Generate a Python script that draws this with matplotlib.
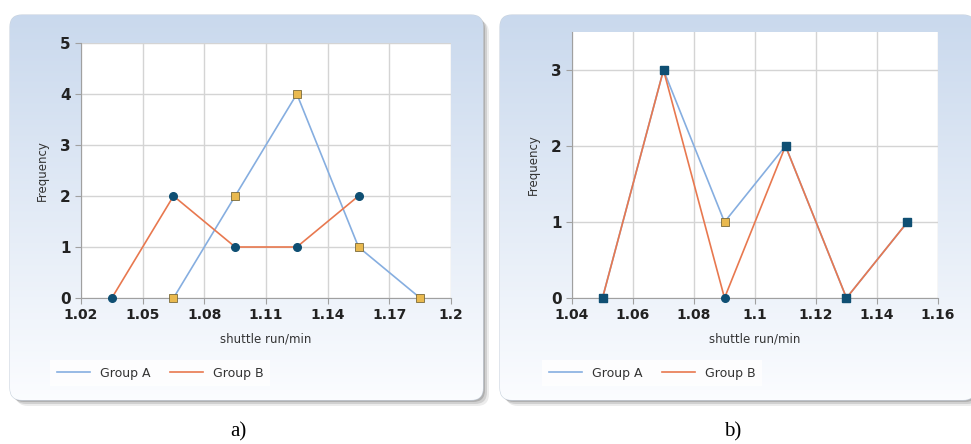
import numpy as np
import matplotlib
matplotlib.use('Agg')
import matplotlib.pyplot as plt
from matplotlib.patches import FancyBboxPatch

# panel a) data
xa_A = [1.065, 1.095, 1.125, 1.155, 1.185]
ya_A = [0, 2, 4, 1, 0]
xa_B = [1.035, 1.065, 1.095, 1.125, 1.155]
ya_B = [0, 2, 1, 1, 2]
xticks_a = [1.02, 1.05, 1.08, 1.11, 1.14, 1.17, 1.2]
xticklabels_a = ['1.02', '1.05', '1.08', '1.11', '1.14', '1.17', '1.2']

# panel b) data
xb = [1.05, 1.07, 1.09, 1.11, 1.13, 1.15]
yb_A = [0, 3, 1, 2, 0, 1]
yb_B = [0, 3, 0, 2, 0, 1]
xticks_b = [1.04, 1.06, 1.08, 1.1, 1.12, 1.14, 1.16]
xticklabels_b = ['1.04', '1.06', '1.08', '1.1', '1.12', '1.14', '1.16']

blue = '#86aee0'
orange = '#e8784f'
dot = '#0f4f73'
sq = '#e9b94f'

W, H = 971, 444
fig = plt.figure(figsize=(W / 100, H / 100), dpi=100)
fig.patch.set_facecolor('white')

# background panels with shadow and vertical gradient
bg = fig.add_axes([0, 0, 1, 1])
bg.set_xlim(0, W)
bg.set_ylim(H, 0)
bg.axis('off')

grad = np.linspace(0, 1, 256)[:, None]
top = np.array([0.79, 0.85, 0.93])
bot = np.array([0.985, 0.99, 1.0])
img = top[None, None, :] * (1 - grad[..., None]) + bot[None, None, :] * grad[..., None]
img = np.repeat(img, 2, axis=1)

for (x0, x1) in [(10, 483), (500, 975)]:
    y0, y1 = 15, 400
    for k, a in zip([6, 4, 2], [0.15, 0.25, 0.4]):
        sh = FancyBboxPatch((x0 + k, y0 + k), x1 - x0, y1 - y0,
                            boxstyle='round,pad=0,rounding_size=12',
                            fc='#808080', ec='none', alpha=a)
        bg.add_patch(sh)
    box = FancyBboxPatch((x0, y0), x1 - x0, y1 - y0,
                         boxstyle='round,pad=0,rounding_size=12',
                         fc='white', ec='#c8d2de', lw=0.8)
    bg.add_patch(box)
    im = bg.imshow(img, extent=(x0, x1, y1, y0), aspect='auto', zorder=2)
    im.set_clip_path(box)

def px(l, t, r, b):
    return [l / W, 1 - b / H, (r - l) / W, (b - t) / H]

def style(ax, xticks, xlabels, ymax, yticks):
    ax.set_facecolor('white')
    ax.set_ylim(0, ymax)
    ax.set_yticks(yticks)
    ax.set_xticks(xticks)
    ax.set_xticklabels(xlabels)
    ax.set_xlim(xticks[0], xticks[-1])
    ax.grid(True, color='#d4d4d4', lw=1.0)
    ax.set_axisbelow(True)
    for s in ['top', 'right']:
        ax.spines[s].set_visible(False)
    for s in ['left', 'bottom']:
        ax.spines[s].set_color('#a0a0a0')
    ax.tick_params(colors='#a0a0a0', length=4, labelcolor='#222222',
                   labelsize=10)
    ax.tick_params(axis='y', labelsize=11)
    for t in ax.get_xticklabels() + ax.get_yticklabels():
        t.set_fontweight('bold')
    ax.set_xlabel('shuttle run/min', fontsize=8.5, color='#333333', labelpad=7)
    ax.set_ylabel('Frequency', fontsize=8.5, color='#333333', labelpad=8)

def legend_box(ax, x_px):
    leg = ax.legend(loc='center left', bbox_to_anchor=(x_px / W, 1 - 373 / H),
                    bbox_transform=fig.transFigure, ncol=2,
                    frameon=True, fontsize=9, handlelength=2.6,
                    columnspacing=1.6, borderpad=0.55, fancybox=False)
    leg.get_frame().set_facecolor('white')
    leg.get_frame().set_edgecolor('none')
    leg.get_frame().set_alpha(0.8)
    for t in leg.get_texts():
        t.set_color('#333333')

# a)
ax1 = fig.add_axes(px(81, 43, 451, 298))
style(ax1, xticks_a, xticklabels_a, 5, [0, 1, 2, 3, 4, 5])
ax1.plot(xa_A, ya_A, color=blue, lw=1.2, label='Group A', zorder=3)
ax1.plot(xa_B, ya_B, color=orange, lw=1.2, label='Group B', zorder=3)
ax1.plot(xa_A, ya_A, 's', ms=5.5, mfc=sq, mec='#7a6a3a', mew=0.6,
         clip_on=False, zorder=5)
ax1.plot(xa_B, ya_B, 'o', ms=5.5, mfc=dot, mec=dot, clip_on=False, zorder=5)
legend_box(ax1, 44)

# b)
ax2 = fig.add_axes(px(572, 32, 938, 298))
style(ax2, xticks_b, xticklabels_b, 3.5, [0, 1, 2, 3])
ax2.plot(xb, yb_A, color=blue, lw=1.2, label='Group A', zorder=3)
ax2.plot(xb, yb_B, color=orange, lw=1.2, label='Group B', zorder=3)
ax2.plot(xb, yb_A, 's', ms=5.5, mfc=sq, mec='#7a6a3a', mew=0.6,
         clip_on=False, zorder=5)
ax2.plot(xb, yb_B, 's', ms=5.7, mfc=dot, mec=dot, clip_on=False, zorder=5,
         markevery=[0, 1, 3, 4, 5])
ax2.plot([xb[2]], [yb_B[2]], 'o', ms=5.5, mfc=dot, mec=dot, clip_on=False,
         zorder=5)
legend_box(ax2, 536)

fig.text(238 / W, 1 - 432 / H, 'a)', ha='center', va='center',
         fontsize=15, family='Liberation Serif')
fig.text(733 / W, 1 - 432 / H, 'b)', ha='center', va='center',
         fontsize=15, family='Liberation Serif')

plt.savefig('out.png', dpi=100)
